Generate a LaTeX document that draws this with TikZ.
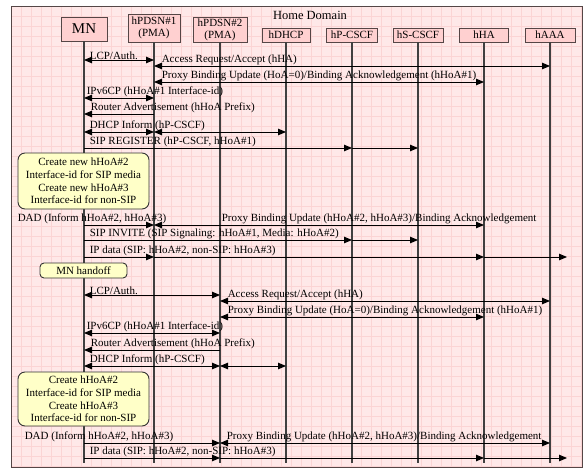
\documentclass[tikz,border=0pt]{standalone}
\usepackage{fontspec}
\setmainfont{Liberation Serif}
\usetikzlibrary{arrows.meta}

\definecolor{bgpink}{RGB}{255,232,232}
\definecolor{gridpink}{RGB}{250,205,205}
\definecolor{hdrpink}{RGB}{255,208,208}
\definecolor{notefill}{RGB}{255,255,200}
\definecolor{edgegray}{RGB}{85,70,70}

\tikzset{
  hdr/.style={draw=edgegray, fill=hdrpink, line width=0.9pt, inner sep=1pt, align=center, font=\fontsize{11}{12}\selectfont},
  life/.style={draw=black!75, line width=1.1pt},
  msg/.style={line width=0.9pt},
  lbl/.style={anchor=south west, inner sep=0.6pt, font=\fontsize{11}{12}\selectfont},
  note/.style={draw=black!80, fill=notefill, rounded corners=7pt, line width=0.9pt, align=center, inner sep=1pt, font=\fontsize{11}{12.7}\selectfont},
}

\begin{document}
\begin{tikzpicture}[x=1pt,y=-1pt,>={Triangle[length=8pt,width=6.5pt]}]  % one unit = one pixel, y grows downwards
    \useasboundingbox (0,0) rectangle (586,468);

    % pink paper with its grid
    \fill[bgpink] (11,6) rectangle (582,467);
    \foreach \gx in {16,26,...,581} \draw[gridpink!45, line width=0.3pt] (\gx,6) -- (\gx,467);
    \foreach \gy in {11,21,...,466} \draw[gridpink!45, line width=0.3pt] (11,\gy) -- (582,\gy);
    \foreach \gx in {21,31,...,581} \draw[gridpink!85, line width=0.4pt] (\gx,6) -- (\gx,467);
    \foreach \gy in {16,26,...,466} \draw[gridpink!85, line width=0.4pt] (11,\gy) -- (582,\gy);
    \draw[edgegray, line width=0.8pt] (11,6) rectangle (582,467);

    % entities
    \node[font=\fontsize{12.5}{13}\selectfont] (home) at (310,15) {Home Domain};
    \node[hdr, minimum width=46pt, minimum height=24pt, font=\fontsize{15}{15}\selectfont] (mn) at (84,29) {MN};
    \node[hdr, minimum width=52pt, minimum height=28pt] (pdsnA) at (154,28) {hPDSN\#1\\(PMA)};
    \node[hdr, minimum width=54pt, minimum height=25pt] (pdsnB) at (220,29.5) {hPDSN\#2\\(PMA)};
    \node[hdr, minimum width=48pt, minimum height=14pt] (dhcp) at (286,35) {hDHCP};
    \node[hdr, minimum width=51pt, minimum height=14pt] (pcscf) at (352,35) {hP-CSCF};
    \node[hdr, minimum width=50pt, minimum height=14pt] (scscf) at (418,35) {hS-CSCF};
    \node[hdr, minimum width=49pt, minimum height=14pt] (ha) at (484,35) {hHA};
    \node[hdr, minimum width=50pt, minimum height=14pt] (aaa) at (550,35) {hAAA};

    % lifelines
    \foreach \n in {mn,pdsnA,pdsnB,dhcp,pcscf,scscf,ha,aaa}
        \draw[life] (\n.south) -- (\n.south |- 0,463);

    % free ends of the data arrows
    \coordinate (netA) at (567,257);
    \coordinate (netB) at (567,458);

    % attach via hPDSN#1
    \draw[msg,<->] (mn |- 0,60) -- (pdsnA |- 0,60);
    \node[lbl] (lcpA) at (89,60) {LCP/Auth.};
    \draw[msg,<->] (pdsnA |- 0,66) -- (aaa |- 0,66);
    \node[lbl] (accA) at (161,66) {Access Request/Accept (hHA)};
    \draw[msg,<->] (pdsnA |- 0,82) -- (ha |- 0,82);
    \node[lbl] (pbuA) at (161,82) {Proxy Binding Update (HoA=0)/Binding Acknowledgement (hHoA\#1)};
    \draw[msg,<->] (mn |- 0,98) -- (pdsnA |- 0,98);
    \node[lbl] (ipcpA) at (86,98) {IPv6CP (hHoA\#1 Interface-id)};
    \draw[msg,->] (pdsnA |- 0,114) -- (mn |- 0,114);
    \node[lbl] (raA) at (90,114) {Router Advertisement (hHoA Prefix)};
    \draw[msg,<->] (mn |- 0,132) -- (pdsnA |- 0,132);
    \draw[msg,<->] (pdsnA |- 0,132) -- (dhcp |- 0,132);
    \node[lbl] (infA) at (89,132) {DHCP Inform (hP-CSCF)};
    \draw[msg,->] (mn |- 0,148) -- (pcscf |- 0,148);
    \draw[msg,->] (pcscf |- 0,148) -- (scscf |- 0,148);
    \node[lbl] (regA) at (89,148) {SIP REGISTER (hP-CSCF, hHoA\#1)};

    \node[note, minimum width=131pt, minimum height=56pt] (newA) at (83.5,181)
        {Create new hHoA\#2\\Interface-id for SIP media\\Create new hHoA\#3\\Interface-id for non-SIP};

    \draw[msg,->] (mn |- 0,225) -- (pdsnA |- 0,225);
    \node[lbl] (dadA) at (17,225) {DAD (Inform hHoA\#2, hHoA\#3)};
    \draw[msg,<->] (pdsnA |- 0,225) -- (ha |- 0,225);
    \node[lbl] (pbuDadA) at (221,225) {Proxy Binding Update (hHoA\#2, hHoA\#3)/Binding Acknowledgement};
    \draw[msg,->] (mn |- 0,240) -- (pcscf |- 0,240);
    \draw[msg,->] (pcscf |- 0,240) -- (scscf |- 0,240);
    \node[lbl] (invA) at (89,240) {SIP INVITE (SIP Signaling: hHoA\#1, Media: hHoA\#2)};
    \draw[msg,->] (mn |- 0,257) -- (pdsnA |- 0,257);
    \draw[msg,->] (pdsnA |- 0,257) -- (ha |- 0,257);
    \draw[msg,->] (ha |- 0,257) -- (netA);
    \node[lbl] (dataA) at (89,257) {IP data (SIP: hHoA\#2, non-SIP: hHoA\#3)};

    \node[note, rounded corners=4pt, minimum width=87pt, minimum height=15pt] (handoff) at (83.5,270.5) {MN handoff};

    % attach via hPDSN#2
    \draw[msg,<->] (mn |- 0,295) -- (pdsnB |- 0,295);
    \node[lbl] (lcpB) at (89,295) {LCP/Auth.};
    \draw[msg,<->] (pdsnB |- 0,301) -- (aaa |- 0,301);
    \node[lbl] (accB) at (227,301) {Access Request/Accept (hHA)};
    \draw[msg,<->] (pdsnB |- 0,317) -- (ha |- 0,317);
    \node[lbl] (pbuB) at (227,317) {Proxy Binding Update (HoA=0)/Binding Acknowledgement (hHoA\#1)};
    \draw[msg,<->] (mn |- 0,333) -- (pdsnB |- 0,333);
    \node[lbl] (ipcpB) at (86,333) {IPv6CP (hHoA\#1 Interface-id)};
    \draw[msg,->] (pdsnB |- 0,350) -- (mn |- 0,350);
    \node[lbl] (raB) at (90,350) {Router Advertisement (hHoA Prefix)};
    \draw[msg,<->] (mn |- 0,366) -- (pdsnB |- 0,366);
    \draw[msg,<->] (pdsnB |- 0,366) -- (dhcp |- 0,366);
    \node[lbl] (infB) at (89,366) {DHCP Inform (hP-CSCF)};

    \node[note, minimum width=131pt, minimum height=54pt] (newB) at (83.5,399)
        {Create hHoA\#2\\Interface-id for SIP media\\Create hHoA\#3\\Interface-id for non-SIP};

    \draw[msg,->] (mn |- 0,443) -- (pdsnB |- 0,443);
    \node[lbl] (dadB) at (24,443) {DAD (Inform hHoA\#2, hHoA\#3)};
    \draw[msg,<->] (pdsnB |- 0,443) -- (aaa |- 0,443);
    \node[lbl] (pbuDadB) at (226,443) {Proxy Binding Update (hHoA\#2, hHoA\#3)/Binding Acknowledgement};
    \draw[msg,->] (mn |- 0,458) -- (pdsnB |- 0,458);
    \draw[msg,->] (pdsnB |- 0,458) -- (ha |- 0,458);
    \draw[msg,->] (ha |- 0,458) -- (netB);
    \node[lbl] (dataB) at (89,458) {IP data (SIP: hHoA\#2, non-SIP: hHoA\#3)};
\end{tikzpicture}
\end{document}
